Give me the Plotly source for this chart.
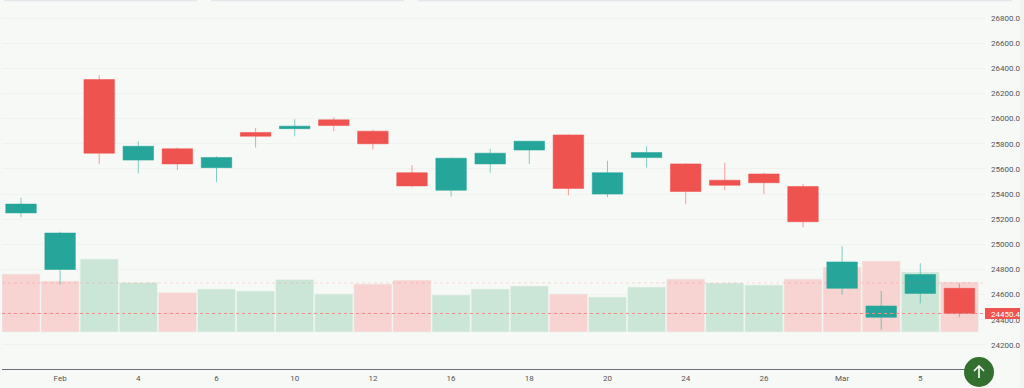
import plotly.graph_objects as go

categories = ["Jan 30", "Feb 1", "Feb 3", "Feb 4", "Feb 5", "Feb 6", "Feb 9", "Feb 10", "Feb 11",
              "Feb 12", "Feb 13", "Feb 16", "Feb 17", "Feb 18", "Feb 19", "Feb 20", "Feb 23",
              "Feb 24", "Feb 25", "Feb 26", "Feb 27", "Mar 1", "Mar 4", "Mar 5", "Mar 6"]
open_ = [25250, 24800, 26310, 25670, 25760, 25610, 25890, 25920, 25990, 25900, 25570, 25430, 25640,
         25750, 25870, 25400, 25690, 25640, 25510, 25560, 25460, 24650, 24420, 24610, 24650]
close = [25320, 25090, 25725, 25780, 25640, 25690, 25860, 25940, 25945, 25800, 25465, 25685, 25725,
         25820, 25445, 25570, 25730, 25420, 25470, 25490, 25180, 24860, 24510, 24760, 24450]
high = [25370, 25100, 26345, 25820, 25770, 25700, 25925, 25995, 26010, 25910, 25630, 25690, 25760,
        25820, 25875, 25665, 25780, 25645, 25650, 25570, 25480, 24985, 24630, 24850, 24690]
low = [25215, 24680, 25640, 25565, 25590, 25495, 25770, 25860, 25900, 25755, 25455, 25380, 25570,
       25640, 25390, 25375, 25610, 25320, 25430, 25400, 25135, 24600, 24320, 24530, 24420]
volume = [58, 51, 73, 49.5, 39.5, 43, 41, 52.5, 38, 48, 52, 37, 43, 46, 38, 35, 45,
          53, 49, 47, 53, 65, 71, 60, 50]
volume_up = [0, 0, 1, 1, 0, 1, 1, 1, 1, 0, 0, 1, 1, 1, 0, 1, 1, 0, 1, 1, 0, 0, 0, 1, 0]
price_ticks = [24200, 24400, 24600, 24800, 25000, 25200, 25400, 25600, 25800, 26000, 26200, 26400, 26600, 26800]
date_tick_cats = ["Feb 1", "Feb 4", "Feb 6", "Feb 10", "Feb 12", "Feb 16", "Feb 18", "Feb 20", "Feb 24", "Feb 26", "Mar 1", "Mar 5"]
date_tick_text = ["Feb", "4", "6", "10", "12", "16", "18", "20", "24", "26", "Mar", "5"]
last_price = 24450.45
prev_level = 24693

W, H = 1024, 388
L, R, T, B = 2, 985, 2, 369
FONT = "Roboto, sans-serif"
def price_at(py):
    return 26800 - (py - 18) * 7.952

fig = go.Figure()
fig.add_bar(x=categories, y=volume, yaxis="y",
            marker=dict(color=["#cbe6d6" if u else "#f7d3d2" for u in volume_up],
                        line=dict(color="#eef4ef", width=0.6)), showlegend=False)
fig.add_candlestick(x=categories, open=open_, high=high, low=low, close=close, yaxis="y2",
                    increasing=dict(fillcolor="#26a69a", line=dict(color="rgba(38,166,154,0.55)", width=1)),
                    decreasing=dict(fillcolor="#ef5350", line=dict(color="rgba(239,83,80,0.55)", width=1)),
                    whiskerwidth=0, showlegend=False)

shapes = [
    dict(type="line", xref="paper", x0=0, x1=1, yref="y2", y0=last_price, y1=last_price,
         line=dict(color="#f08a88", width=1, dash="dot"), layer="above"),
    dict(type="line", xref="paper", x0=0, x1=1, yref="y2", y0=prev_level, y1=prev_level,
         line=dict(color="rgba(239,83,80,0.18)", width=1, dash="dot"), layer="above"),
    # last price tag
    dict(type="rect", xref="paper", x0=1.0, x1=(1024 - L) / (R - L), yref="y2",
         y0=last_price - 44, y1=last_price + 44, fillcolor="#ef5350", line=dict(width=0), layer="above",
         label=dict(text=f"{last_price:.2f}", textposition="middle left", padding=3,
                    font=dict(color="white", size=8, family=FONT))),
    # page scrollbar strip
    dict(type="rect", xref="paper", x0=(1020 - L) / (R - L), x1=(1024 - L) / (R - L),
         yref="paper", y0=-1, y1=2, fillcolor="#f1f2f1", line=dict(width=0), layer="above"),
    # scroll-to-top button
    dict(type="circle", xref="paper", yref="paper", xsizemode="pixel", ysizemode="pixel",
         xanchor=(979 - L) / (R - L), yanchor=(B - 372) / (B - T),
         x0=-15, x1=15, y0=-15, y1=15, fillcolor="#336f2e", line=dict(width=0), layer="above"),
    dict(type="path", xref="paper", yref="paper", xsizemode="pixel", ysizemode="pixel",
         xanchor=(979 - L) / (R - L), yanchor=(B - 372) / (B - T),
         path="M 0 -6 L 0 6 M -5 1 L 0 6 L 5 1", line=dict(color="white", width=1.6), layer="above"),
]
for x0, x1 in [(4, 197), (211, 404), (418, 1012)]:
    shapes.append(dict(type="line", xref="paper", x0=(x0 - L) / (R - L), x1=(x1 - L) / (R - L),
                       yref="paper", y0=(B - 0.5) / (B - T), y1=(B - 0.5) / (B - T),
                       line=dict(color="#e3e6ea", width=1.5), layer="above"))

fig.update_layout(
    width=W, height=H, autosize=False,
    margin=dict(l=L, r=W - R, t=T, b=H - B, pad=0, autoexpand=False),
    paper_bgcolor="#f7f9f7", plot_bgcolor="#f7f9f7",
    barmode="overlay", bargap=0.025, boxgap=0.22, boxgroupgap=0, showlegend=False,
    font=dict(family=FONT, color="#555555", size=8),
    xaxis=dict(type="category", categoryorder="array", categoryarray=categories,
               range=[-0.486, 24.655], automargin=False,
               rangeslider=dict(visible=False), tickmode="array",
               tickvals=date_tick_cats, ticktext=date_tick_text, ticks="", showgrid=False,
               showline=True, linecolor="#6b6f76", linewidth=1, zeroline=False,
               ticklabelstandoff=1,
               tickfont=dict(size=8, color="#555555", family=FONT)),
    yaxis=dict(range=[-37, 330], visible=False, showgrid=False, zeroline=False, fixedrange=True),
    yaxis2=dict(overlaying="y", side="right", range=[price_at(B), price_at(T)], tickmode="array",
                tickvals=price_ticks, ticktext=[f"{v:.2f}" for v in price_ticks], showgrid=True,
                gridcolor="#eff2ef", gridwidth=1, zeroline=False, showline=False, ticks="",
                ticklabelstandoff=5, automargin=False,
                tickfont=dict(size=8, color="#555555", family=FONT)),
    shapes=shapes,
)
fig.write_html("out.html", config=dict(displayModeBar=False),
               post_script="document.body.style.margin='0';document.body.style.overflow='hidden';")
